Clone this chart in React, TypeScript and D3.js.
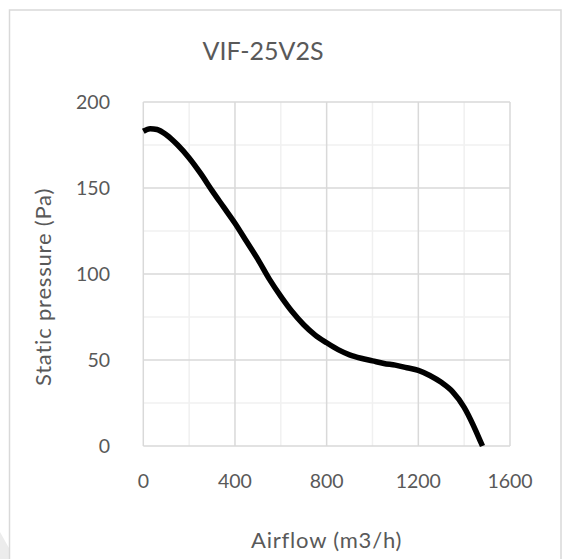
import * as d3 from 'd3';
import React, { useEffect, useRef } from 'react';

const title = 'VIF-25V2S';
const xTitle = 'Airflow (m3/h)';
const yTitle = 'Static pressure (Pa)';

const airflow = [0, 30, 60, 100, 150, 200, 250, 300, 350, 400, 450, 500, 550, 600, 650, 700, 750, 800, 850, 900, 950, 1000, 1050, 1100, 1150, 1200, 1250, 1300, 1350, 1400, 1440, 1460, 1480];
const pressure = [183, 184.5, 184, 181, 175, 167.5, 158.5, 148.5, 139, 129.5, 119, 108.5, 97, 87, 78, 70.5, 64.5, 60, 56, 53, 51, 49.5, 48, 47, 45.5, 44, 41, 37, 31.5, 22.5, 12, 6, 0];

const xTicks = [0, 400, 800, 1200, 1600];
const yTicks = [0, 50, 100, 150, 200];
const xMinor = [200, 600, 1000, 1400];
const yMinor = [25, 75, 125, 175];

const W = 566;
const H = 559;
const plot = { left: 143.3, right: 510, top: 102, bottom: 446 };
const font = 'Lato, "Open Sans", sans-serif';
const textColor = '#595959';

export default function App() {
  const ref = useRef<SVGSVGElement>(null);

  useEffect(() => {
    document.body.style.margin = '0';
    const svg = d3.select(ref.current);
    svg.selectAll('*').remove();

    const x = d3.scaleLinear().domain([0, 1600]).range([plot.left, plot.right]);
    const y = d3.scaleLinear().domain([0, 200]).range([plot.bottom, plot.top]);

    svg.append('rect').attr('width', W).attr('height', H).attr('fill', '#fff');

    // faint shadow at bottom-left corner
    svg
      .append('path')
      .attr('d', `M0,532 L9,548 L9,${H} L0,${H} Z`)
      .attr('fill', '#ececec');

    // outer chart border (open at the bottom)
    svg
      .append('path')
      .attr('d', `M9.5,${H} L9.5,10 L561,10 L561,${H}`)
      .attr('fill', 'none')
      .attr('stroke', '#d9d9d9')
      .attr('stroke-width', 1.5);

    const grid = svg.append('g');
    const vLines = (vals: number[], color: string) =>
      grid
        .append('g')
        .selectAll('line')
        .data(vals)
        .join('line')
        .attr('x1', (d) => x(d))
        .attr('x2', (d) => x(d))
        .attr('y1', plot.top)
        .attr('y2', plot.bottom)
        .attr('stroke', color)
        .attr('stroke-width', 1.5);
    const hLines = (vals: number[], color: string) =>
      grid
        .append('g')
        .selectAll('line')
        .data(vals)
        .join('line')
        .attr('x1', plot.left)
        .attr('x2', plot.right)
        .attr('y1', (d) => y(d))
        .attr('y2', (d) => y(d))
        .attr('stroke', color)
        .attr('stroke-width', 1.5);
    vLines(xMinor, '#f0f0f0');
    hLines(yMinor, '#f0f0f0');
    vLines(xTicks, '#d9d9d9');
    hLines(yTicks, '#d9d9d9');

    // tick labels
    svg
      .append('g')
      .selectAll('text')
      .data(xTicks)
      .join('text')
      .attr('x', (d) => x(d))
      .attr('y', 488)
      .attr('text-anchor', 'middle')
      .attr('font-family', font)
      .attr('font-size', 19.5)
      .attr('fill', textColor)
      .text((d) => d);
    svg
      .append('g')
      .selectAll('text')
      .data(yTicks)
      .join('text')
      .attr('x', 110)
      .attr('y', (d) => y(d))
      .attr('dy', '0.36em')
      .attr('text-anchor', 'end')
      .attr('font-family', font)
      .attr('font-size', 19.5)
      .attr('fill', textColor)
      .text((d) => d);

    // curve
    const data = airflow.map((a, i) => [a, pressure[i]] as [number, number]);
    const line = d3
      .line<[number, number]>()
      .x((d) => x(d[0]))
      .y((d) => y(d[1]))
      .curve(d3.curveMonotoneX);
    svg
      .append('path')
      .datum(data)
      .attr('d', line)
      .attr('fill', 'none')
      .attr('stroke', '#000')
      .attr('stroke-width', 5.5)
      .attr('stroke-linejoin', 'round');

    // titles
    svg
      .append('text')
      .attr('x', 263)
      .attr('y', 60)
      .attr('text-anchor', 'middle')
      .attr('font-family', font)
      .attr('font-size', 25)
      .attr('fill', textColor)
      .text(title);
    svg
      .append('text')
      .attr('x', (plot.left + plot.right) / 2)
      .attr('y', 548)
      .attr('text-anchor', 'middle')
      .attr('font-family', font)
      .attr('font-size', 22)
      .attr('letter-spacing', 0.8)
      .attr('fill', textColor)
      .text(xTitle);
    svg
      .append('text')
      .attr('transform', `translate(51, ${(plot.top + plot.bottom) / 2 + 13}) rotate(-90)`)
      .attr('text-anchor', 'middle')
      .attr('font-family', font)
      .attr('font-size', 22)
      .attr('letter-spacing', 0.8)
      .attr('fill', textColor)
      .text(yTitle);
  }, []);

  return <svg ref={ref} width={W} height={H} style={{ display: 'block' }} />;
}
